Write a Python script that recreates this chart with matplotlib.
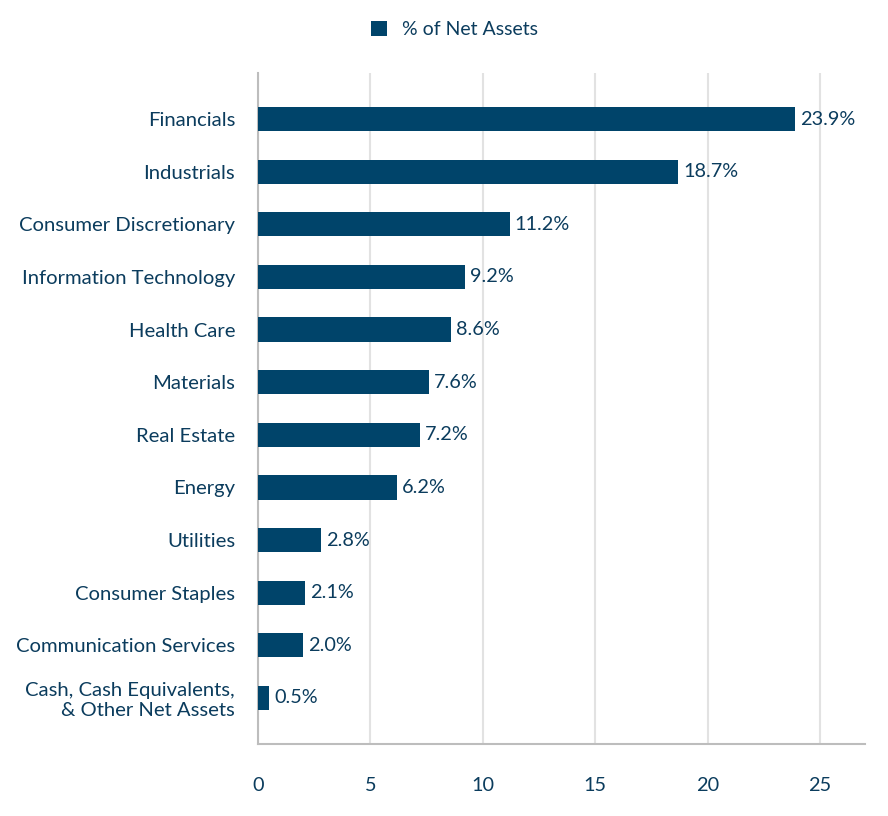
import matplotlib.pyplot as plt
import numpy as np

plt.rcParams['font.family'] = ['Lato', 'DejaVu Sans']

sectors = [
    "Financials",
    "Industrials",
    "Consumer Discretionary",
    "Information Technology",
    "Health Care",
    "Materials",
    "Real Estate",
    "Energy",
    "Utilities",
    "Consumer Staples",
    "Communication Services",
    "Cash, Cash Equivalents,\n& Other Net Assets",
]
pct_net_assets = [23.9, 18.7, 11.2, 9.2, 8.6, 7.6, 7.2, 6.2, 2.8, 2.1, 2.0, 0.5]
x_ticks = [0, 5, 10, 15, 20, 25]

bar_color = "#00446a"
text_color = "#0b3c5d"

fig = plt.figure(figsize=(8.88, 8.16), dpi=100)
ax = fig.add_axes([0.2905, 0.0882, 0.6836, 0.8223])

y = np.arange(len(sectors))
bars = ax.barh(y, pct_net_assets, height=0.46, color=bar_color,
               label="% of Net Assets", zorder=3)

for yi, v in zip(y, pct_net_assets):
    ax.text(v + 0.22, yi, f"{v:.1f}%", va="center", ha="left",
            fontsize=14.3, color=text_color)

ax.set_xlim(0, 27)
ax.set_ylim(len(sectors) - 1 + 0.875, -0.875)
ax.set_yticks(y)
ax.set_yticklabels(sectors, fontsize=14.6, color=text_color, linespacing=1.2)
ax.set_xticks(x_ticks)
ax.set_xticklabels([str(t) for t in x_ticks], fontsize=14.3, color=text_color)
ax.tick_params(axis="y", length=0, pad=16.5)
ax.tick_params(axis="x", length=0, pad=24)

ax.grid(axis="x", color="#e2e2e2", linewidth=1.5, zorder=0)
for side in ["top", "right"]:
    ax.spines[side].set_visible(False)
ax.spines["left"].set_color("#bdbdbd")
ax.spines["bottom"].set_color("#bdbdbd")
ax.spines["left"].set_linewidth(1.5)
ax.spines["bottom"].set_linewidth(1.5)

fig.legend(handles=[bars], labels=["% of Net Assets"], loc="center",
           bbox_to_anchor=(0.512, 0.964), frameon=False, fontsize=14,
           labelcolor=text_color, handlelength=0.8, handleheight=0.8,
           handletextpad=0.8)

fig.savefig("out.png", dpi=100)
